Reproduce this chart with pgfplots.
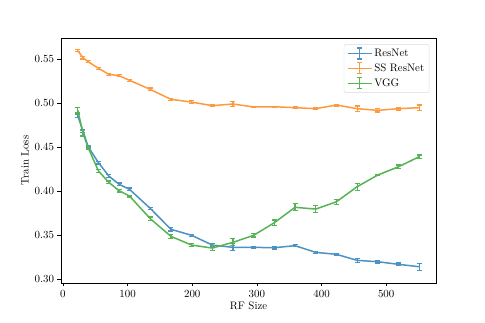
\documentclass[border=0pt]{standalone}
\usepackage{pgfplots}
\pgfplotsset{compat=1.18}
\usepackage{pgfplotstable}
\definecolor{cblue}{RGB}{76,146,195}
\definecolor{corange}{RGB}{255,153,62}
\definecolor{cgreen}{RGB}{86,179,86}
\pgfplotstableread{
x y e
23 0.5594 0.001
31 0.5515 0.0015
39 0.5469 0.001
55 0.5394 0.001
71 0.5326 0.001
87 0.5310 0.001
103 0.5258 0.001
135 0.5155 0.0015
167 0.5042 0.001
199 0.5011 0.0015
231 0.4970 0.001
263 0.4989 0.003
295 0.4955 0.0008
327 0.4958 0.0005
359 0.4947 0.001
391 0.4936 0.0008
423 0.4977 0.001
455 0.4936 0.003
487 0.4917 0.002
519 0.4936 0.0015
551 0.4947 0.003
}\ssres
\pgfplotstableread{
x y e
23 0.4852 0.002
31 0.4682 0.002
39 0.4504 0.0015
55 0.4322 0.0015
71 0.4170 0.0015
87 0.4076 0.0015
103 0.4019 0.0015
135 0.3803 0.001
167 0.3565 0.002
199 0.3497 0.001
231 0.3386 0.002
263 0.3360 0.004
295 0.3360 0.001
327 0.3356 0.0015
359 0.3379 0.001
391 0.3303 0.001
423 0.3281 0.0008
455 0.3212 0.002
487 0.3197 0.0015
519 0.3167 0.0015
551 0.3140 0.004
}\resnet
\pgfplotstableread{
x y e
23 0.4917 0.003
31 0.4656 0.003
39 0.4493 0.0015
55 0.4227 0.002
71 0.4098 0.0015
87 0.4003 0.0015
103 0.3943 0.001
135 0.3686 0.002
167 0.3485 0.0025
199 0.3386 0.0015
231 0.3352 0.003
263 0.3417 0.004
295 0.3497 0.002
327 0.3640 0.003
359 0.3815 0.004
391 0.3795 0.004
423 0.3878 0.003
455 0.4049 0.004
487 0.4182 0.001
519 0.4276 0.002
551 0.4390 0.002
}\vgg
\begin{document}
\begin{tikzpicture}
\begin{axis}[
  scale only axis, width=375bp, height=245bp,
  at={(0,0)}, anchor=south west,
  xmin=-3, xmax=577, ymin=0.2955, ymax=0.5739,
  xtick={0,100,200,300,400,500},
  ytick={0.30,0.35,0.40,0.45,0.50,0.55},
  yticklabel style={/pgf/number format/fixed,/pgf/number format/fixed zerofill,/pgf/number format/precision=2},
  tick pos=left, tick align=outside, major tick length=3.5bp,
  every tick/.style={black, line width=0.8bp},
  axis line style={line width=0.8bp},
  ticklabel style={font=\fontsize{10.9}{13}\selectfont},
  label style={font=\fontsize{10.9}{13}\selectfont},
  xlabel={RF Size}, ylabel={Train Loss},
  xlabel style={yshift=2bp},
  ylabel style={yshift=-1bp},
  legend style={at={(rel axis cs:0.982,0.975)}, anchor=north east,
    draw=black!15, rounded corners=2bp, fill=white, fill opacity=0.8, text opacity=1,
    font=\fontsize{10.9}{13}\selectfont, row sep=1.8bp, inner sep=2.8bp},
  legend cell align=left,
  legend image code/.code={
    \draw[#1, line width=1.5bp] (0bp,0bp) -- (24bp,0bp);
    \draw[#1, line width=1.2bp] (12bp,-5.5bp) -- (12bp,5.5bp);
    \draw[#1, line width=1.2bp] (9.5bp,-5.5bp) -- (14.5bp,-5.5bp);
    \draw[#1, line width=1.2bp] (9.5bp,5.5bp) -- (14.5bp,5.5bp);
  },
  every axis plot/.append style={line width=1.5bp, mark=none},
  error bars/error bar style={line width=1.2bp},
  error bars/error mark options={line width=1.2bp, mark size=2.5bp, rotate=90},
]
\addplot[cblue, error bars/.cd, y dir=both, y explicit] table[x=x, y=y, y error=e] {\resnet};
\addlegendentry{ResNet}
\addplot[corange, error bars/.cd, y dir=both, y explicit] table[x=x, y=y, y error=e] {\ssres};
\addlegendentry{SS ResNet}
\addplot[cgreen, error bars/.cd, y dir=both, y explicit] table[x=x, y=y, y error=e] {\vgg};
\addlegendentry{VGG}
\end{axis}
\useasboundingbox (-61bp,-40bp) rectangle (424bp,283bp);
\end{tikzpicture}
\end{document}
